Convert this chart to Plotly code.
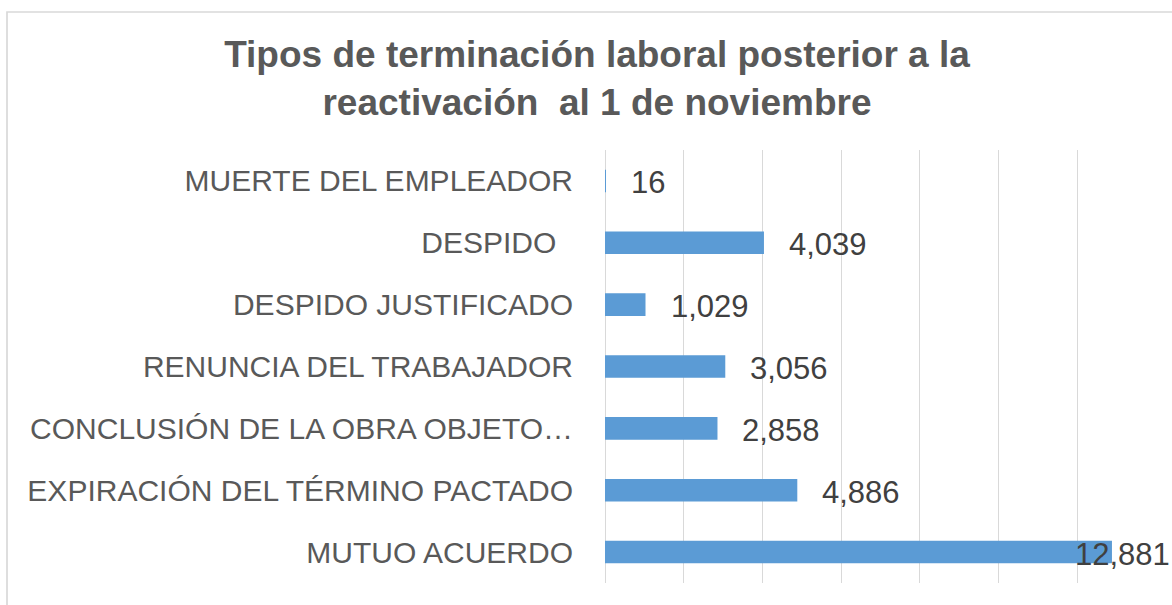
import plotly.graph_objects as go

categories = [
    "MUERTE DEL EMPLEADOR",
    "DESPIDO\u00a0\u00a0",
    "DESPIDO JUSTIFICADO",
    "RENUNCIA DEL TRABAJADOR",
    "CONCLUSIÓN DE LA OBRA OBJETO…",
    "EXPIRACIÓN DEL TÉRMINO PACTADO",
    "MUTUO ACUERDO",
]
values = [16, 4039, 1029, 3056, 2858, 4886, 12881]
value_labels = ["16", "4,039", "1,029", "3,056", "2,858", "4,886", "12,881"]
title_text = "Tipos de terminación laboral posterior a la<br>reactivación  al 1 de noviembre"

FONT = "Liberation Sans, Arial, sans-serif"
W, H = 1172, 605
L, R, T, B = 605, 16, 150, 22

fig = go.Figure()
fig.add_trace(go.Bar(
    x=values, y=categories, orientation="h",
    marker=dict(color="#5B9BD5", line=dict(width=0)),
    hoverinfo="x+y",
))

vmax = max(values)
for c, v, lab in zip(categories, values, value_labels):
    if v == vmax:
        fig.add_annotation(x=v, y=c, text=lab, showarrow=False, xanchor="right",
                           xshift=60, yshift=-2,
                           font=dict(family=FONT, size=31, color="#404040"))
    else:
        fig.add_annotation(x=v, y=c, text=lab, showarrow=False, xanchor="left",
                           xshift=23, yshift=-2,
                           font=dict(family=FONT, size=31, color="#404040"))

pw = W - L - R
ph = H - T - B
def px_x(p):
    return (p - L) / pw
def px_y(p):
    return (H - B - p) / ph

fig.add_shape(type="rect", xref="paper", yref="paper",
              x0=px_x(7), x1=px_x(1200), y0=px_y(640), y1=px_y(12),
              line=dict(color="#D9D9D9", width=1.7), fillcolor="rgba(0,0,0,0)", layer="below")

fig.update_layout(
    width=W, height=H,
    margin=dict(l=L, r=R, t=T, b=B),
    paper_bgcolor="white", plot_bgcolor="white",
    bargap=0.635,
    showlegend=False,
    title=dict(text=title_text, x=597 / W, xanchor="center", xref="container",
               y=1 - 67 / H, yanchor="middle", yref="container",
               font=dict(family=FONT, size=37, color="#595959", weight="bold")),
    xaxis=dict(range=[0, 14000], dtick=2000, showticklabels=False,
               showgrid=True, gridcolor="#D9D9D9", gridwidth=1.3,
               zeroline=True, zerolinecolor="#D9D9D9", zerolinewidth=1.3,
               showline=False, fixedrange=True),
    yaxis=dict(categoryorder="array", categoryarray=categories, autorange="reversed",
               showgrid=False, showline=False, zeroline=False, ticks="",
               ticklabelstandoff=31, fixedrange=True,
               tickfont=dict(family=FONT, size=30, color="#595959")),
)

fig.write_html("out.html", config={"displayModeBar": False},
               post_script="document.body.style.margin='0px';")
